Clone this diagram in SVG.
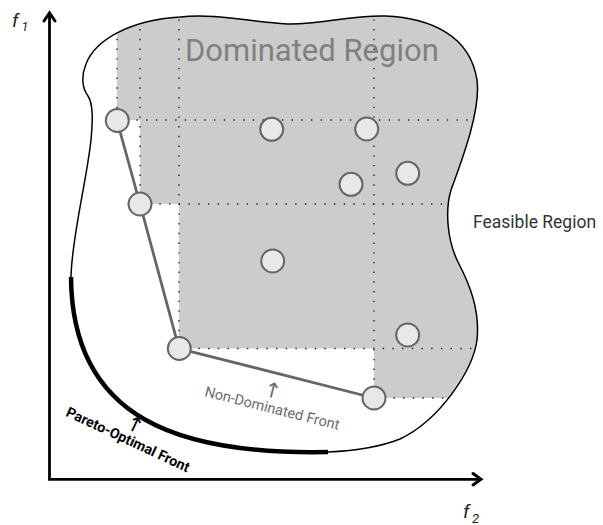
<svg xmlns="http://www.w3.org/2000/svg" width="603" height="525" viewBox="0 0 603 525">
  <style>
    .outline { fill: none; stroke: #000; stroke-width: 1.5; }
    .pareto { fill: none; stroke: #000; stroke-width: 4.5; stroke-linecap: butt; }
    .axis { fill: none; stroke: #000; stroke-width: 2.8; }
    .axis-head { fill: none; stroke: #000; stroke-width: 3; stroke-linecap: round; stroke-linejoin: miter; }
    .dots { fill: none; stroke: #222; stroke-width: 1.4; stroke-dasharray: 1.4 8.3; }
    .front { fill: none; stroke: #666; stroke-width: 2.8; }
    .pt { fill: #e8e8e8; stroke: #666; stroke-width: 2; }
    .lbl { font-family: Roboto, "Liberation Sans", sans-serif; }
    .arrow { font-family: "DejaVu Sans", sans-serif; }
    .axlbl { font-family: Roboto, "Liberation Sans", sans-serif; font-style: italic; fill: #222; }
  </style>
  <defs>
    <clipPath id="feasible">
      <path id="feasible-shape" d="M 71,277 C 72,235 86,185 91,140 C 93,118 93,104 88,96 C 82,88 81,76 86,64 C 95,40 130,20 180,17 C 215,13 250,22 287,24 C 320,25 350,15 385,16 C 430,18 470,35 477,80 C 481,110 462,160 451,190 C 445,210 447,240 458,262 C 470,285 480,310 477,340 C 473,370 440,420 400,439 C 380,447 350,451 328,452 C 180,455 72,420 71,277 Z"/>
    </clipPath>
  </defs>

  <!-- dominated area: staircase behind the front, limited to the feasible set -->
  <g id="dominated-region" clip-path="url(#feasible)">
    <path d="M 117,0 L 117,120 L 140,120 L 140,204 L 179,204 L 179,348.5 L 374,348.5 L 374,398 L 603,398 L 603,0 Z" fill="#cccccc"/>
    <text class="lbl" x="185" y="61" font-size="31" fill="#808080">Dominated Region</text>
    <g class="dots">
      <line x1="117" y1="0" x2="117" y2="120"/>
      <line x1="140" y1="0" x2="140" y2="204"/>
      <line x1="179" y1="0" x2="179" y2="348.5"/>
      <line x1="374" y1="0" x2="374" y2="398"/>
      <line x1="117" y1="120" x2="603" y2="120"/>
      <line x1="140" y1="204" x2="603" y2="204"/>
      <line x1="179" y1="348.5" x2="603" y2="348.5"/>
      <line x1="374" y1="398" x2="603" y2="398"/>
    </g>
  </g>

  <!-- feasible region boundary -->
  <g id="feasible-region">
    <use href="#feasible-shape" class="outline"/>
    <path class="pareto" d="M 328,452 C 180,455 72,420 71,277"/>
    <text class="lbl" x="473" y="228" font-size="17.5" fill="#333">Feasible Region</text>
  </g>

  <!-- axes -->
  <g id="axes">
    <line class="axis" x1="49.5" y1="480" x2="49.5" y2="14"/>
    <polyline class="axis-head" points="44,21 49.5,13 55,21"/>
    <line class="axis" x1="48" y1="479.3" x2="480" y2="479.3"/>
    <polyline class="axis-head" points="473,473.5 481,479.3 473,485"/>
    <text class="axlbl" x="12" y="27" font-size="19">f</text>
    <text class="axlbl" x="21.5" y="31" font-size="12.5">1</text>
    <text class="axlbl" x="463" y="518" font-size="19">f</text>
    <text class="axlbl" x="472" y="523" font-size="13">2</text>
  </g>

  <!-- connectors: the non-dominated front -->
  <g id="connectors">
    <polyline class="front" points="117,120.5 140,204 179,348.5 374,398"/>
  </g>

  <!-- solutions -->
  <g id="nd-1"><circle class="pt" cx="117.3" cy="120.5" r="11.5"/></g>
  <g id="nd-2"><circle class="pt" cx="140" cy="204" r="11.5"/></g>
  <g id="nd-3"><circle class="pt" cx="179.3" cy="348.5" r="11.5"/></g>
  <g id="nd-4"><circle class="pt" cx="374" cy="398" r="11.5"/></g>
  <g id="d-1"><circle class="pt" cx="271.7" cy="129.3" r="11.5"/></g>
  <g id="d-2"><circle class="pt" cx="366.7" cy="129" r="11.5"/></g>
  <g id="d-3"><circle class="pt" cx="407.7" cy="173.3" r="11.5"/></g>
  <g id="d-4"><circle class="pt" cx="351" cy="184.3" r="11.5"/></g>
  <g id="d-5"><circle class="pt" cx="272.7" cy="261" r="11.5"/></g>
  <g id="d-6"><circle class="pt" cx="407.7" cy="335" r="11.5"/></g>

  <!-- front labels -->
  <g id="label-non-dominated" transform="translate(271,413) rotate(14.2)" fill="#6b6b6b">
    <text class="lbl" x="0" y="0" font-size="14.5" text-anchor="middle">Non-Dominated Front</text>
    <text class="arrow" x="-4" y="-15" font-size="21" text-anchor="middle">↑</text>
  </g>
  <g id="label-pareto" transform="translate(126,444) rotate(25)" fill="#000">
    <text class="lbl" x="0" y="0" font-size="14.2" font-weight="bold" text-anchor="middle">Pareto-Optimal Front</text>
    <text class="arrow" x="0" y="-14" font-size="21" text-anchor="middle">↑</text>
  </g>
</svg>
